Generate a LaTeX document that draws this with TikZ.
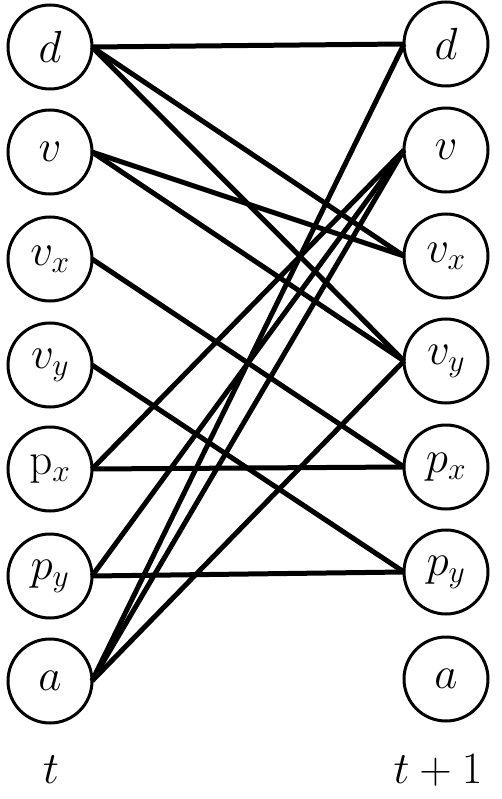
\documentclass[tikz,border=0pt]{standalone}
\usepackage{fix-cm}
\begin{document}
\begin{tikzpicture}[x=1pt,y=-1pt,
  var/.style={circle,draw,line width=3pt,minimum size=84pt,inner sep=0pt,outer sep=0pt,
    font=\fontsize{45}{54}\selectfont},
  edge/.style={line width=5pt},
  lab/.style={font=\fontsize{45}{54}\selectfont,inner sep=0pt}]
\useasboundingbox (0,0) rectangle (502,799);
% left column (t)
\node[var] (Ld) at (50,47) {$d$};
\node[var] (Lv) at (50,152) {$v$};
\node[var] (Lvx) at (50,259) {$v_x$};
\node[var] (Lvy) at (50,365) {$v_y$};
\node[var] (Lpx) at (50,469) {$\mathrm{p}_x$};
\node[var] (Lpy) at (50,576) {$p_y$};
\node[var] (La) at (50,681) {$a$};
% right column (t+1)
\node[var] (Rd) at (446,44) {$d$};
\node[var] (Rv) at (446,150) {$v$};
\node[var] (Rvx) at (446,256) {$v_x$};
\node[var] (Rvy) at (446,361) {$v_y$};
\node[var] (Rpx) at (446,467) {$p_x$};
\node[var] (Rpy) at (446,572) {$p_y$};
\node[var] (Ra) at (446,679) {$a$};
% labels
\node[lab] (tl) at (51,770) {$t$};
\node[lab] (tr) at (438,770) {$t+1$};
% edges
\draw[edge] (Ld.east) -- (Rd.west);
\draw[edge] (Ld.east) -- (Rvx.west);
\draw[edge] (Ld.east) -- (Rvy.west);
\draw[edge] (Lv.east) -- (Rvx.west);
\draw[edge] (Lv.east) -- (Rvy.west);
\draw[edge] (Lvx.east) -- (Rpx.west);
\draw[edge] (Lvy.east) -- (Rpy.west);
\draw[edge] (Lpx.east) -- (Rpx.west);
\draw[edge] (Lpx.east) -- (Rv.west);
\draw[edge] (Lpy.east) -- (Rpy.west);
\draw[edge] (Lpy.east) -- (Rv.west);
\draw[edge] (La.east) -- (Rd.west);
\draw[edge] (La.east) -- (Rv.west);
\draw[edge] (La.east) -- (Rvy.west);
\end{tikzpicture}
\end{document}
